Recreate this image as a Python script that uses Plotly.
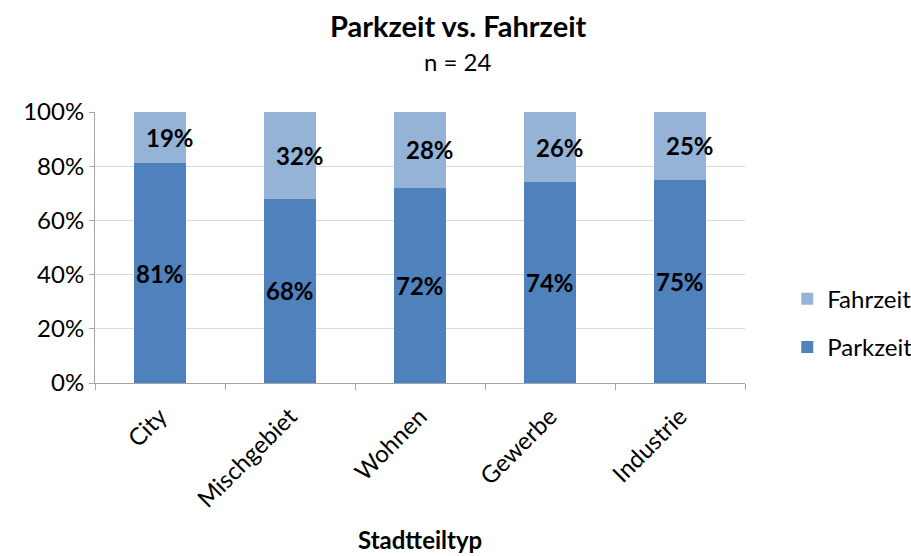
import plotly.graph_objects as go

# ---- DATA ----
categories = ['City', 'Mischgebiet', 'Wohnen', 'Gewerbe', 'Industrie']
parkzeit = [0.81, 0.68, 0.72, 0.74, 0.75]
fahrzeit = [0.19, 0.32, 0.28, 0.26, 0.25]
y_ticks = [0, 0.2, 0.4, 0.6, 0.8, 1.0]
y_ticktext = ['0%', '20%', '40%', '60%', '80%', '100%']

FONT = 'Lato'
PARK_COLOR = '#4F81BD'
FAHR_COLOR = '#95B3D7'
GRID = '#D9D9D9'
AXIS = '#A6A6A6'

fig = go.Figure()

fig.add_trace(go.Bar(
    x=categories, y=parkzeit, name='Parkzeit',
    marker=dict(color=PARK_COLOR, line=dict(width=0)),
    legendgroup='park', legendrank=2,
))
fig.add_trace(go.Bar(
    x=categories, y=fahrzeit, name='Fahrzeit',
    marker=dict(color=FAHR_COLOR, line=dict(width=0)),
    legendgroup='fahr', legendrank=1,
))

# value labels, centered in each segment
annotations = []
for cat, p, f in zip(categories, parkzeit, fahrzeit):
    annotations.append(dict(
        x=cat, y=p / 2, text=f"<b>{p:.0%}</b>", showarrow=False,
        yanchor='middle', font=dict(family=FONT, size=24, color='black'),
    ))
    annotations.append(dict(
        x=cat, y=p + f / 2, text=f"<b>{f:.0%}</b>", showarrow=False,
        xshift=10, yanchor='middle',
        font=dict(family=FONT, size=24, color='black'),
    ))

# title, subtitle and x-axis title
annotations += [
    dict(xref='paper', yref='paper', x=0.5585, y=1.321, yanchor='middle',
         text='<b>Parkzeit vs. Fahrzeit</b>', showarrow=False,
         font=dict(family=FONT, size=29, color='black')),
    dict(xref='paper', yref='paper', x=0.5585, y=1.185, yanchor='middle',
         text='n = 24', showarrow=False,
         font=dict(family=FONT, size=24, color='black')),
    dict(xref='paper', yref='paper', x=0.5, y=-0.579, yanchor='middle',
         text='<b>Stadtteiltyp</b>', showarrow=False,
         font=dict(family=FONT, size=24, color='black')),
]

fig.update_layout(
    barmode='stack',
    bargap=0.6,
    width=911, height=556,
    margin=dict(l=95, r=166, t=112, b=173, autoexpand=False),
    paper_bgcolor='white', plot_bgcolor='white',
    font=dict(family=FONT, size=24, color='black'),
    showlegend=True,
    legend=dict(
        x=1.065, y=0.392, xanchor='left', yanchor='top',
        traceorder='grouped', tracegroupgap=14,
        font=dict(family=FONT, size=24, color='black'),
        itemwidth=30,
    ),
    annotations=annotations,
)

fig.update_yaxes(
    range=[0, 1], tickvals=y_ticks, ticktext=y_ticktext,
    showgrid=True, gridcolor=GRID, gridwidth=1,
    showline=True, linecolor=AXIS, linewidth=1,
    ticks='outside', ticklen=5, tickcolor=AXIS,
    zeroline=False, automargin=False,
    tickfont=dict(family=FONT, size=24, color='black'),
)
fig.update_xaxes(
    showline=True, linecolor=AXIS, linewidth=1,
    ticks='outside', ticklen=6, tickcolor=AXIS, tickson='boundaries',
    tickangle=-45, ticklabelstandoff=9, automargin=False,
    tickfont=dict(family=FONT, size=24, color='black'),
)

# the page body has a default 8px margin; drop it so the figure fills the window
fig.write_html("out.html", config={'displayModeBar': False},
               post_script="document.body.style.margin='0';")
